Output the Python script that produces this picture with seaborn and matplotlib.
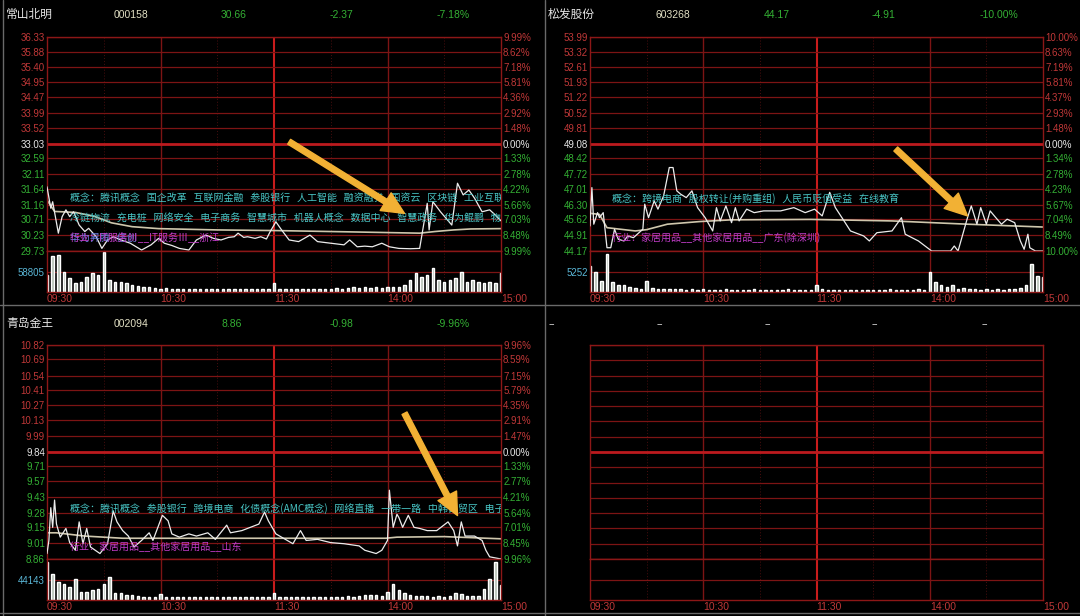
import matplotlib
matplotlib.use('Agg')
import matplotlib.pyplot as plt
import pandas as pd
import seaborn as sns

# ===================== 数据（从截图估读） =====================
minutes_ticks = [0, 60, 120, 180, 240]
minutes_labels = ['09:30', '10:30', '11:30', '14:00', '15:00']

# --- 常山北明 000158 ---
head_1 = ['常山北明', '000158', '30.66', '-2.37', '-7.18%']
ticks_1 = [36.33, 35.88, 35.40, 34.95, 34.47, 33.99, 33.52, 33.03,
           32.59, 32.11, 31.64, 31.16, 30.71, 30.23, 29.73]
pct_1 = ['9.99%', '8.62%', '7.18%', '5.81%', '4.36%', '2.92%', '1.48%', '0.00%',
         '1.33%', '2.78%', '4.22%', '5.66%', '7.03%', '8.48%', '9.99%']
times_1 = [0, 2, 3, 6, 8, 10, 12, 14, 17, 20,
           22, 26, 29, 32, 35, 39, 44, 50, 55, 59,
           62, 66, 70, 75, 79, 84, 88, 92, 96, 99,
           101, 104, 106, 110, 113, 116, 118, 121, 124, 128,
           133, 139, 143, 150, 157, 160, 164, 168, 172, 177,
           181, 186, 192, 197, 201, 202, 204, 208, 214, 217,
           220, 223, 226, 230, 234, 237, 240]
price_1 = [31.71, 31.05, 31.25, 30.28, 30.79, 31.00, 30.79, 30.94, 30.53, 30.33,
           30.43, 30.17, 29.81, 30.07, 30.17, 30.07, 29.97, 29.76, 29.92, 30.12,
           29.97, 29.90, 29.81, 29.76, 30.07, 30.22, 30.12, 30.07, 30.15, 30.17,
           30.28, 30.15, 30.17, 30.12, 30.17, 30.10, 30.33, 30.63, 30.38, 30.07,
           30.02, 30.22, 30.02, 29.97, 29.92, 30.07, 29.86, 29.88, 29.86, 29.97,
           29.86, 29.81, 29.80, 29.81, 31.20, 30.38, 31.25, 30.94, 30.53, 31.82,
           31.46, 31.61, 31.36, 30.94, 31.00, 30.84, 30.66]
avg_t_1 = [0, 4, 15, 25, 34, 45, 59, 90, 121, 160, 197, 205, 215, 224, 240]
avg_p_1 = [31.30, 30.95, 30.92, 30.80, 30.60, 30.48, 30.42, 30.38, 30.36, 30.32,
           30.28, 30.33, 30.38, 30.41, 30.42]
vol_1 = [49000, 102900, 104900, 58800, 39200, 24500, 29400, 44100, 53900, 49000,
         115000, 34300, 29400, 27400, 24500, 19600, 17600, 14700, 13700, 11800,
         9800, 11800, 8800, 9800, 7800, 8800, 9800, 7800, 8800, 9800,
         7800, 8800, 7800, 8800, 7800, 9800, 8800, 7800, 8800, 9800,
         24500, 9800, 8800, 7800, 7800, 8800, 7800, 8800, 7800, 9800,
         8800, 10800, 9800, 11800, 13700, 11800, 14700, 12700, 13700, 11800,
         14700, 14700, 15700, 19600, 34300, 53900, 44100, 49000, 68600, 34300,
         29400, 34300, 39200, 58800, 29400, 34300, 29400, 24500, 29400, 24500,
         53900]
vol_mark_1 = 58805
concept_1 = ['腾讯概念', '国企改革', '互联网金融', '参股银行', '人工智能', '融资融券',
             '国资云', '区块链', '工业互联网']
concept_1b = ['冷链物流', '充电桩', '网络安全', '电子商务', '智慧城市', '机器人概念',
              '数据中心', '智慧政务', '华为鲲鹏', '物联网']
concept_1c = ['华为昇腾', '信创']
industry_1 = '行业：IT服务Ⅲ__IT服务Ⅲ__浙江'
arrow_1 = ((128, 33.10), (189, 30.89))

# --- 松发股份 603268 ---
head_2 = ['松发股份', '603268', '44.17', '-4.91', '-10.00%']
ticks_2 = [53.99, 53.32, 52.61, 51.93, 51.22, 50.52, 49.81, 49.08,
           48.42, 47.72, 47.01, 46.30, 45.62, 44.91, 44.17]
pct_2 = ['10.00%', '8.63%', '7.19%', '5.81%', '4.37%', '2.93%', '1.48%', '0.00%',
         '1.34%', '2.78%', '4.23%', '5.67%', '7.04%', '8.49%', '10.00%']
times_2 = [0, 1, 2, 4, 5, 7, 9, 11, 13, 15,
           18, 20, 23, 28, 29, 31, 34, 36, 39, 42,
           44, 46, 48, 51, 54, 57, 61, 65, 67, 69,
           72, 75, 77, 79, 83, 87, 92, 101, 108, 114,
           119, 123, 127, 130, 134, 138, 145, 148, 152, 160,
           165, 167, 174, 181, 191, 193, 195, 200, 202, 205,
           207, 210, 212, 215, 218, 221, 225, 228, 230, 232,
           233, 236, 240]
price_2 = [45.32, 47.08, 45.40, 45.93, 45.70, 45.93, 44.32, 44.32, 45.17, 44.71,
           44.63, 44.86, 44.78, 45.17, 46.32, 45.70, 46.47, 46.09, 46.70, 48.00,
           48.00, 46.93, 46.78, 46.62, 46.93, 46.16, 45.70, 45.09, 46.16, 45.55,
           46.24, 45.47, 46.16, 45.55, 46.09, 45.93, 46.01, 46.01, 46.16, 45.93,
           46.09, 45.78, 46.86, 46.16, 45.63, 45.09, 44.86, 44.63, 45.01, 45.09,
           45.70, 44.94, 44.63, 44.17, 44.17, 44.40, 44.17, 45.70, 46.24, 45.40,
           46.16, 45.40, 46.01, 45.70, 45.40, 45.63, 45.47, 44.63, 44.25, 44.94,
           44.32, 44.17, 44.17]
avg_t_2 = [0, 5, 9, 24, 30, 41, 58, 75, 117, 160, 200, 240]
avg_p_2 = [45.90, 45.85, 45.24, 45.09, 45.15, 45.40, 45.52, 45.60, 45.62, 45.55,
           45.40, 45.27]
vol_2 = [6700, 5000, 2900, 9700, 2500, 1700, 1700, 1260, 1000, 840,
         2900, 1000, 840, 760, 840, 670, 760, 590, 670, 590,
         670, 590, 500, 590, 670, 500, 590, 500, 590, 670,
         500, 590, 500, 590, 500, 670, 590, 500, 590, 590,
         1700, 670, 590, 500, 590, 500, 590, 500, 590, 500,
         590, 500, 590, 670, 500, 590, 500, 590, 670, 590,
         5000, 2500, 1700, 1260, 1700, 840, 1000, 760, 670, 590,
         670, 590, 670, 590, 670, 760, 1000, 1700, 7100, 4200,
         3800]
vol_mark_2 = 5252
concept_2 = ['跨境电商', '股权转让(并购重组)', '人民币贬值受益', '在线教育']
industry_2 = '行业：家居用品__其他家居用品__广东(除深圳)'
arrow_2 = ((162, 48.85), (200, 45.78))

# --- 青岛金王 002094 ---
head_3 = ['青岛金王', '002094', '8.86', '-0.98', '-9.96%']
ticks_3 = [10.82, 10.69, 10.54, 10.41, 10.27, 10.13, 9.99, 9.84,
           9.71, 9.57, 9.43, 9.28, 9.15, 9.01, 8.86]
pct_3 = ['9.96%', '8.59%', '7.15%', '5.79%', '4.35%', '2.91%', '1.47%', '0.00%',
         '1.33%', '2.77%', '4.21%', '5.64%', '7.01%', '8.45%', '9.96%']
times_3 = [0, 1, 2, 3, 4, 5, 7, 10, 12, 15,
           17, 19, 21, 23, 28, 32, 35, 37, 40, 43,
           46, 50, 54, 56, 61, 64, 66, 70, 75, 79,
           85, 89, 95, 97, 103, 106, 112, 115, 117, 121,
           126, 130, 134, 137, 143, 150, 157, 165, 168, 174,
           177, 180, 181, 183, 185, 186, 188, 191, 194, 197,
           201, 206, 212, 215, 217, 219, 221, 226, 230, 232,
           234, 240]
price_3 = [8.91, 9.03, 9.33, 9.15, 9.40, 9.18, 9.06, 9.14, 9.01, 8.94,
           9.20, 9.00, 9.14, 8.97, 8.91, 9.00, 9.30, 9.20, 9.12, 9.07,
           8.97, 9.03, 9.10, 9.03, 9.26, 9.21, 9.09, 9.06, 9.09, 9.07,
           9.10, 9.04, 9.17, 9.10, 9.12, 9.14, 9.18, 9.29, 9.21, 9.09,
           9.04, 9.00, 9.12, 9.03, 9.04, 9.01, 9.00, 8.98, 8.94, 8.91,
           8.94, 9.03, 9.49, 9.15, 9.27, 9.24, 9.15, 9.26, 9.15, 9.14,
           9.12, 9.12, 9.20, 9.12, 8.98, 9.20, 9.07, 9.07, 9.03, 8.94,
           8.88, 8.86]
avg_t_3 = [0, 5, 20, 40, 80, 121, 179, 185, 210, 240]
avg_p_3 = [9.10, 9.10, 9.07, 9.05, 9.05, 9.05, 9.05, 9.06, 9.065, 9.045]
vol_3 = [81000, 56500, 38800, 35300, 28200, 45900, 17600, 17600, 21200, 24700,
         35300, 49400, 14100, 14100, 10600, 10600, 8500, 7100, 7100, 7100,
         12700, 6400, 7100, 5600, 6400, 7100, 5600, 6400, 7100, 6400,
         5600, 6400, 7100, 5600, 6400, 5600, 7100, 6400, 5600, 6400,
         14100, 7100, 6400, 5600, 6400, 7100, 5600, 6400, 7100, 6400,
         7100, 6400, 7100, 8500, 7100, 8500, 10600, 9900, 10600, 8500,
         17600, 35300, 21200, 14100, 10600, 8500, 7800, 8500, 7100, 7800,
         7100, 8500, 14100, 12700, 8500, 8500, 8500, 24700, 45900, 81000,
         31800]
vol_mark_3 = 44143
concept_3 = ['腾讯概念', '参股银行', '跨境电商', '化债概念(AMC概念)', '网络直播',
             '一带一路', '中韩自贸区', '电子商务']
industry_3 = '行业：家居用品__其他家居用品__山东'
arrow_3 = ((189, 10.195), (217, 9.258))

vol_minutes = list(range(0, 241, 3))

# ===================== 样式 =====================
W, H = 1080, 616
GRID = '#7c1414'
BORDER = '#8c1717'
ZERO = '#bc1a1e'
NOON = '#c81c1c'
FAINT = '#4a0e0e'
RED_TXT = '#c03838'
GREEN_TXT = '#34b034'
WHITE_TXT = '#e6e6e6'
CYAN = '#48c4c4'
MAGENTA = '#c23cc8'
ARROW = '#f2b134'
CJK = ['Noto Sans CJK SC', 'DejaVu Sans']

sns.set_theme(style='dark', rc={'axes.facecolor': 'black', 'figure.facecolor': 'black',
                                'axes.grid': False})
plt.rcParams['font.family'] = ['Liberation Sans', 'Noto Sans CJK SC', 'DejaVu Sans']
plt.rcParams['axes.unicode_minus'] = False

fig = plt.figure(figsize=(W / 100, H / 100), dpi=100)
fig.patch.set_facecolor('black')


def px(x0, y0, x1, y1):
    return [x0 / W, 1 - y1 / H, (x1 - x0) / W, (y1 - y0) / H]


def level_colors(n=15, mid=7):
    return [RED_TXT if i < mid else WHITE_TXT if i == mid else GREEN_TXT for i in range(n)]


def frame(a):
    a.set_facecolor('black')
    a.set_xlim(0, 240)
    for s in a.spines.values():
        s.set_color(BORDER)
        s.set_linewidth(1.0)
    for m in (30, 90, 150, 210):
        a.axvline(m, color=FAINT, lw=0.7, ls=(0, (1, 2)), zorder=1)
    for m in (60, 180):
        a.axvline(m, color=GRID, lw=1.0, zorder=1)
    a.axvline(120, color=NOON, lw=1.5, zorder=1)
    a.set_xlabel('')
    a.set_ylabel('')


def draw_panel(box, ticks=None, pct=None, times=None, price=None, avg_t=None,
               avg_p=None, vols=None, vol_mark=None):
    left, right, top, split, bottom = box
    ax = fig.add_axes(px(left, top, right, split))
    axv = fig.add_axes(px(left, split, right, bottom))
    frame(ax)
    frame(axv)
    ax.set_xticks([])

    levels = ticks if ticks is not None else list(range(14, -1, -1))
    ax.set_ylim(levels[-1], levels[0])
    for i, lv in enumerate(levels):
        if i == 7:
            ax.axhline(lv, color=ZERO, lw=2.0, zorder=1)
        else:
            ax.axhline(lv, color=GRID, lw=0.9, zorder=1)

    vtop = 2 * vol_mark if vol_mark else 2
    axv.set_ylim(0, vtop)
    axv.axhline(vtop / 2, color=GRID, lw=0.9, zorder=1)

    if ticks is not None:
        ax.set_yticks(ticks)
        ax.set_yticklabels(['%.2f' % v for v in ticks])
        ax.tick_params(axis='y', length=0, pad=1.5, labelsize=7)
        for lab, c in zip(ax.get_yticklabels(), level_colors()):
            lab.set_color(c)
        axr = ax.twinx()
        axr.set_ylim(ax.get_ylim())
        axr.set_yticks(ticks)
        axr.set_yticklabels(pct)
        axr.tick_params(axis='y', length=0, pad=1.5, labelsize=7)
        for s in axr.spines.values():
            s.set_visible(False)
        for lab, c in zip(axr.get_yticklabels(), level_colors()):
            lab.set_color(c)

        df = pd.DataFrame({'t': times, 'p': price})
        sns.lineplot(data=df, x='t', y='p', ax=ax, color='#ececec', lw=0.9, zorder=3)
        dfa = pd.DataFrame({'t': avg_t, 'p': avg_p})
        sns.lineplot(data=dfa, x='t', y='p', ax=ax, color='#cfc7ad', lw=1.2, zorder=2)
        ax.set_xlabel('')
        ax.set_ylabel('')
        ax.set_xlim(0, 240)

        axv.bar(vol_minutes, vols, width=1.3, color='#b4bfb4', zorder=2)
        axv.set_yticks([vol_mark])
        axv.set_yticklabels([str(vol_mark)])
        axv.tick_params(axis='y', length=0, pad=1.5, labelsize=7, labelcolor='#5ab6d6')
    else:
        ax.set_yticks([])
        axv.set_yticks([])

    axv.set_xticks(minutes_ticks)
    axv.set_xticklabels(minutes_labels)
    axv.tick_params(axis='x', length=0, pad=1.5, labelsize=7.5, labelcolor=RED_TXT)
    for lab in axv.get_xticklabels():
        lab.set_ha('left')
    return ax


def header(x_list, y, texts):
    colors = [WHITE_TXT, '#e2e0c4', GREEN_TXT, GREEN_TXT, GREEN_TXT]
    sizes = [8.5, 7.5, 7.5, 7.5, 7.5]
    for x, t, c, s in zip(x_list, texts, colors, sizes):
        fig.text(x / W, 1 - y / H, t, color=c, fontsize=s, ha='left', va='center')


def overlay(ax, x_frac, y_frac, text, color):
    ax.text(x_frac, y_frac, text, transform=ax.transAxes, color=color, fontsize=7.2,
            family=CJK, ha='left', va='center', clip_on=True, zorder=5)


def arrow(ax, spec):
    (t0, p0), (t1, p1) = spec
    ax.annotate('', xy=(t1, p1), xytext=(t0, p0), xycoords='data', annotation_clip=False,
                arrowprops=dict(arrowstyle='simple,head_length=0.8,head_width=0.75,tail_width=0.2',
                                color=ARROW, mutation_scale=20, shrinkA=0, shrinkB=0),
                zorder=10)


# 背景分隔线
bg = fig.add_axes([0, 0, 1, 1], zorder=-5)
bg.set_xlim(0, W)
bg.set_ylim(H, 0)
bg.axis('off')
for xs, ys in (([3, 3], [0, H]), ([545, 545], [0, H]), ([0, W], [305, 305]), ([0, W], [613, 613])):
    bg.plot(xs, ys, color='#6a6a6a', lw=1.0)

gap = '   '

ax1 = draw_panel((47, 501, 37, 251, 292), ticks_1, pct_1, times_1, price_1,
                 avg_t_1, avg_p_1, vol_1, vol_mark_1)
header([6, 114, 221, 330, 437], 15, head_1)
overlay(ax1, 0.051, 0.243, '概念：' + gap.join(concept_1), CYAN)
overlay(ax1, 0.051, 0.150, gap.join(concept_1b), CYAN)
overlay(ax1, 0.051, 0.061, gap.join(concept_1c), '#6a7ce0')
overlay(ax1, 0.051, 0.061, industry_1, MAGENTA)
arrow(ax1, arrow_1)

ax2 = draw_panel((590, 1043, 37, 251, 292), ticks_2, pct_2, times_2, price_2,
                 avg_t_2, avg_p_2, vol_2, vol_mark_2)
header([548, 656, 764, 872, 980], 15, head_2)
overlay(ax2, 0.049, 0.243, '概念：' + gap.join(concept_2), CYAN)
overlay(ax2, 0.049, 0.061, industry_2, MAGENTA)
arrow(ax2, arrow_2)

ax3 = draw_panel((47, 501, 345, 559, 600), ticks_3, pct_3, times_3, price_3,
                 avg_t_3, avg_p_3, vol_3, vol_mark_3)
header([6, 114, 222, 330, 437], 324, head_3)
overlay(ax3, 0.051, 0.238, '概念：' + gap.join(concept_3), CYAN)
overlay(ax3, 0.051, 0.056, industry_3, MAGENTA)
arrow(ax3, arrow_3)

draw_panel((590, 1043, 345, 559, 600))
for x in (549, 657, 765, 872, 982):
    fig.text(x / W, 1 - 324 / H, '--', color=WHITE_TXT, fontsize=7, ha='left', va='center')

fig.savefig('out.png', dpi=100, facecolor='black')
